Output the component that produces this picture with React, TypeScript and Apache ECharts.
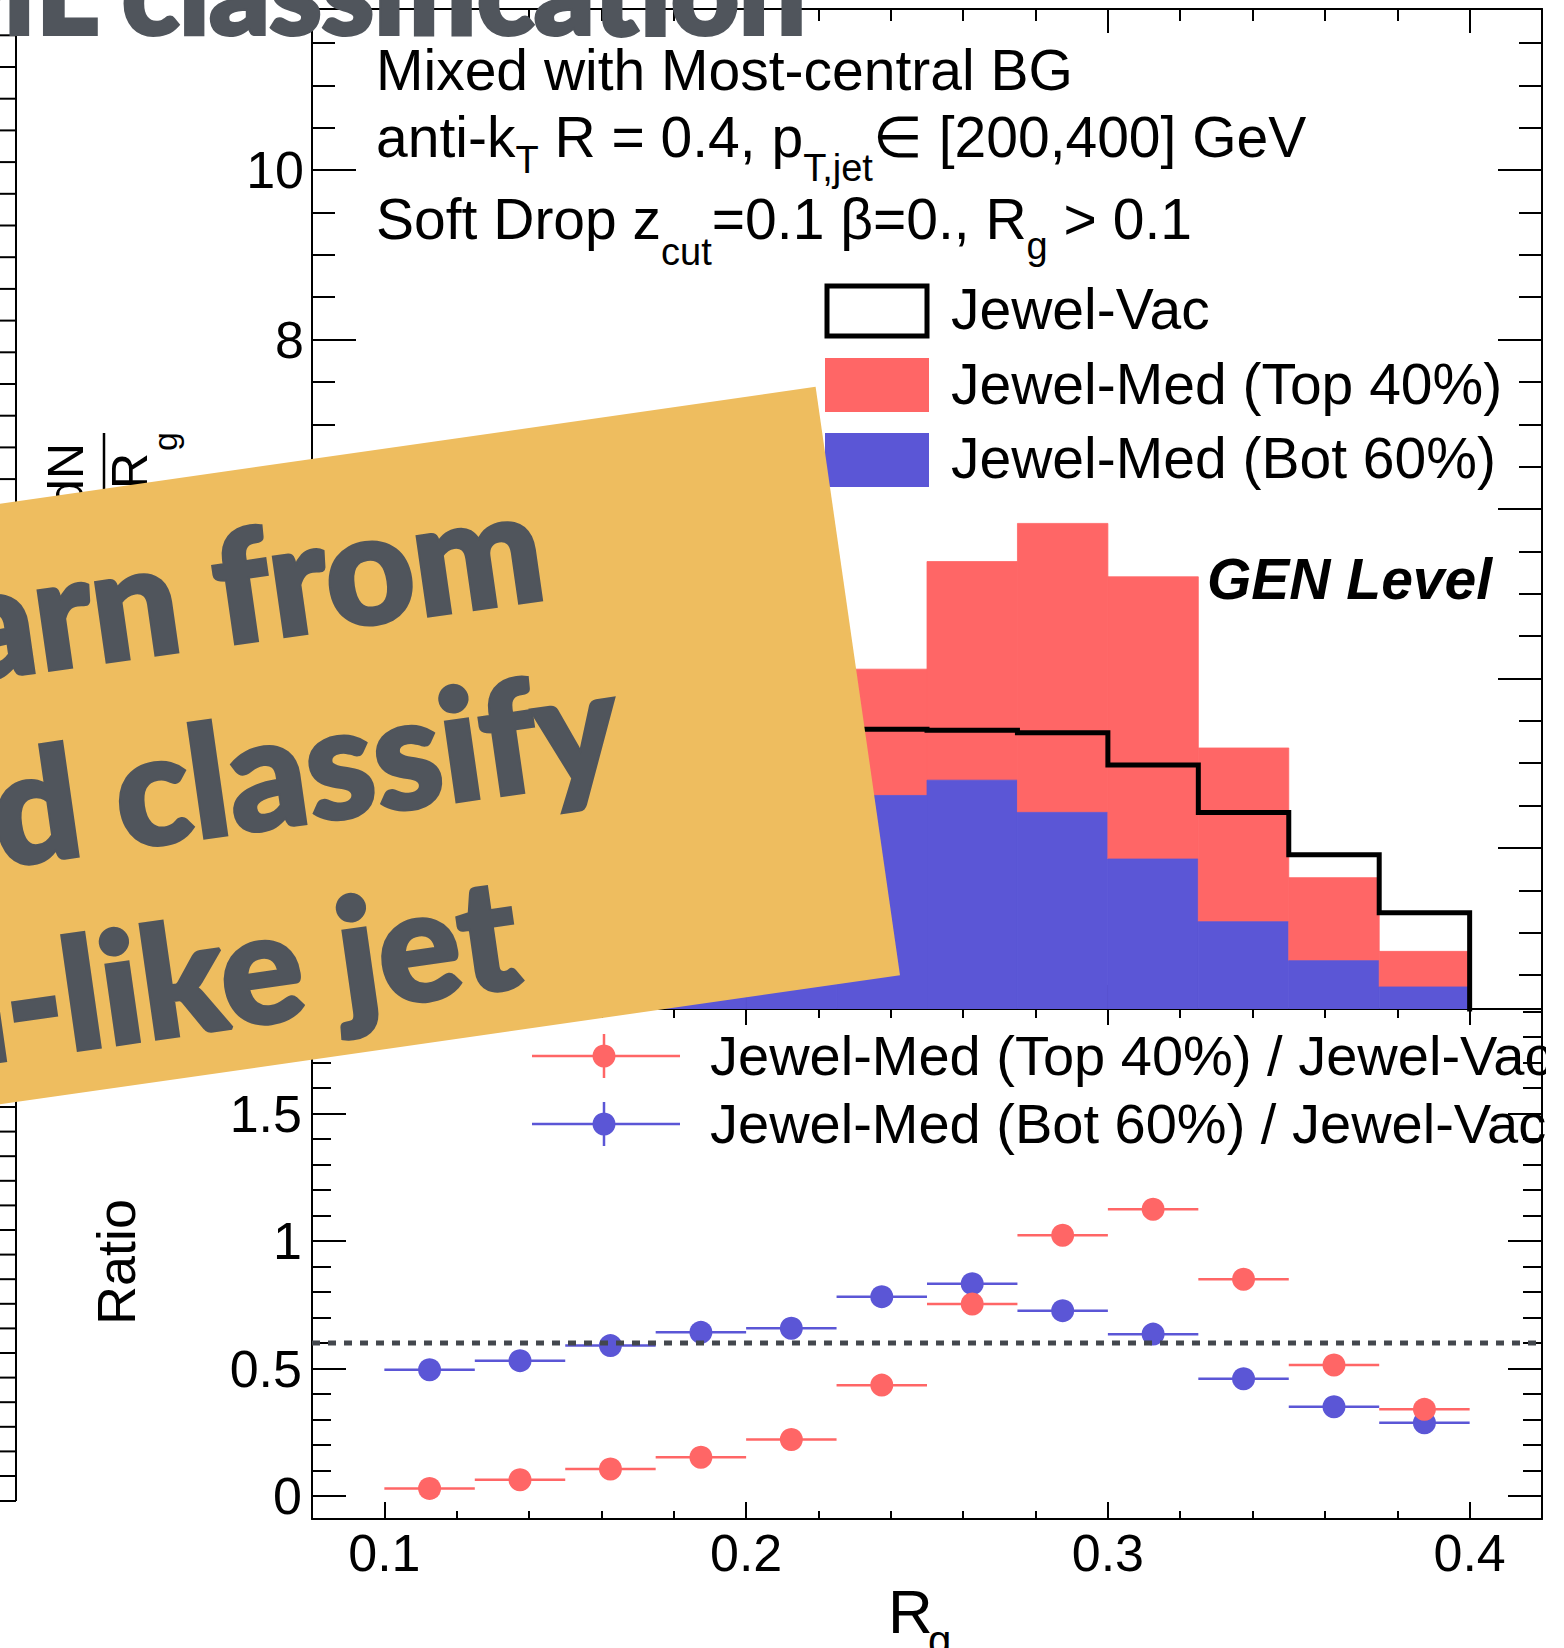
import React, { useEffect, useRef } from "react";
import * as echarts from "echarts";

// ---------------- data ----------------
const binLowEdges = [0.1, 0.125, 0.15, 0.175, 0.2, 0.225, 0.25, 0.275, 0.3, 0.325, 0.35, 0.375];
const binWidth = 0.025;
// upper pad (dN/dRg); bins 0-4 are hidden behind the banner and estimated
const jewelVac = [4.0, 3.9, 3.75, 3.6, 3.5, 3.4, 3.39, 3.36, 2.98, 2.42, 1.92, 1.235];
const jewelMedBot60 = [2.0, 2.09, 2.24, 2.33, 2.32, 2.62, 2.8, 2.42, 1.87, 1.13, 0.67, 0.36];
const jewelMedTop40 = [0.13, 0.27, 0.41, 0.56, 0.79, 1.49, 2.58, 3.41, 3.33, 2.05, 0.98, 0.42];
// lower pad (ratios)
const ratioCenters = [0.1125, 0.1375, 0.1625, 0.1875, 0.2125, 0.2375, 0.2625, 0.2875, 0.3125, 0.3375, 0.3625, 0.3875];
const ratioTop40 = [0.03, 0.064, 0.106, 0.152, 0.222, 0.435, 0.753, 1.023, 1.125, 0.85, 0.514, 0.34];
const ratioBot60 = [0.495, 0.531, 0.59, 0.642, 0.658, 0.782, 0.833, 0.727, 0.635, 0.46, 0.35, 0.287];
const ratioReference = 0.6;

// ticks / labels
const xTickLabels = [0.1, 0.2, 0.3, 0.4];
const xMinorTicks = [0.08, 0.1, 0.12, 0.14, 0.16, 0.18, 0.2, 0.22, 0.24, 0.26, 0.28, 0.3, 0.32, 0.34, 0.36, 0.38, 0.4, 0.42];
const yMainLabels = [2, 4, 6, 8, 10];
const yMainMinor = [0.5, 1, 1.5, 2, 2.5, 3, 3.5, 4, 4.5, 5, 5.5, 6, 6.5, 7, 7.5, 8, 8.5, 9, 9.5, 10, 10.5, 11, 11.5];
const yRatioLabels = [0, 0.5, 1, 1.5];
const yRatioMinor = [0, 0.1, 0.2, 0.3, 0.4, 0.5, 0.6, 0.7, 0.8, 0.9, 1, 1.1, 1.2, 1.3, 1.4, 1.5, 1.6, 1.7, 1.8, 1.9];

const X_MIN = 0.08, X_MAX = 0.42;
const YU_MIN = 0.1, YU_MAX = 11.9;
const YL_MIN = -0.09, YL_MAX = 1.91;

const RED = "#ff6666";
const BLUE = "#5b56d6";
const SLATE = "#50555c";
const BANNER = "#eebd5f";
const ROOTF = "Liberation Sans";
const HEAVY = "Lato";

const C_LIB = 0.3465;
const C_LATO = 0.387;

let _ctx: CanvasRenderingContext2D | null = null;
function tw(text: string, size: number, family = ROOTF, weight = "normal", style = "normal") {
  if (!_ctx) _ctx = document.createElement("canvas").getContext("2d");
  if (!_ctx) return text.length * size * 0.55;
  _ctx.font = `${style} ${weight} ${size}px "${family}"`;
  return _ctx.measureText(text).width;
}

function txt(x: number, baseline: number, text: string, size: number, opts: any = {}) {
  const c = opts.central ?? C_LIB;
  return {
    type: "text",
    x,
    y: baseline - c * size,
    z: opts.z ?? 5,
    rotation: opts.rotation ?? 0,
    style: {
      text,
      fontSize: size,
      fontFamily: opts.family ?? ROOTF,
      fontWeight: opts.weight ?? "normal",
      fontStyle: opts.style ?? "normal",
      fill: opts.fill ?? "#000",
      align: opts.align ?? "left",
      verticalAlign: "middle",
    },
  };
}

type Part = { t: string; sub?: boolean; dy?: number };
function latexLine(x0: number, baseline: number, parts: Part[], size: number, subSize: number) {
  let x = x0;
  const els: any[] = [];
  for (const p of parts) {
    const fs = p.sub ? subSize : size;
    els.push(txt(x, baseline + (p.dy || 0), p.t, fs));
    x += tw(p.t, fs);
  }
  return els;
}

function xAxisDef(gridIndex: number, position: string, ticks: number[], len: number, showLine: boolean, labels?: number[]) {
  return {
    type: "value", gridIndex, position, min: X_MIN, max: X_MAX,
    axisLine: { show: showLine, onZero: false, lineStyle: { color: "#000", width: 2 } },
    axisTick: { show: true, inside: true, length: len, customValues: ticks, lineStyle: { color: "#000", width: 2 } },
    axisLabel: labels
      ? { show: true, customValues: labels, margin: 8, fontSize: 52, fontFamily: ROOTF, color: "#000" }
      : { show: false },
    splitLine: { show: false },
    silent: true,
  };
}
function yAxisDef(gridIndex: number, position: string, min: number, max: number, ticks: number[], len: number, showLine: boolean, labels?: number[], margin = 8) {
  return {
    type: "value", gridIndex, position, min, max,
    axisLine: { show: showLine, onZero: false, lineStyle: { color: "#000", width: 2 } },
    axisTick: { show: true, inside: true, length: len, customValues: ticks, lineStyle: { color: "#000", width: 2 } },
    axisLabel: labels
      ? { show: true, customValues: labels, margin, fontSize: 52, fontFamily: ROOTF, color: "#000" }
      : { show: false },
    splitLine: { show: false },
    silent: true,
  };
}

function buildOption() {
  const vacOutline: number[][] = [[binLowEdges[0], 0]];
  binLowEdges.forEach((x, i) => {
    vacOutline.push([x, jewelVac[i]]);
    vacOutline.push([x + binWidth, jewelVac[i]]);
  });
  vacOutline.push([binLowEdges[binLowEdges.length - 1] + binWidth, 0]);

  const errBar = (color: string) => (params: any, api: any) => {
    const x = api.value(0), y = api.value(1);
    const a = api.coord([x - binWidth / 2, y]);
    const b = api.coord([x + binWidth / 2, y]);
    return { type: "line", shape: { x1: a[0], y1: a[1], x2: b[0], y2: b[1] }, style: { stroke: color, lineWidth: 2.5 } };
  };

  const graphics: any[] = [];

  // neighbouring panel (cropped) on the far left
  graphics.push({ type: "line", z: 1, shape: { x1: 16, y1: 30, x2: 16, y2: 1501 }, style: { stroke: "#000", lineWidth: 2 } });
  graphics.push({ type: "line", z: 1, shape: { x1: 0, y1: 1501, x2: 16, y2: 1501 }, style: { stroke: "#000", lineWidth: 2 } });
  for (let y = 67 - 31.7; y < 520; y += 31.7)
    graphics.push({ type: "line", z: 1, shape: { x1: 0, y1: y, x2: 16, y2: y }, style: { stroke: "#000", lineWidth: 2 } });
  for (let y = 1107; y < 1500; y += 24.6)
    graphics.push({ type: "line", z: 1, shape: { x1: 0, y1: y, x2: 16, y2: y }, style: { stroke: "#000", lineWidth: 2 } });

  // y-axis title fragment dN/dRg (mostly under banner)
  graphics.push({ type: "text", z: 1, x: 66, y: 443, rotation: Math.PI / 2,
    style: { text: "dN", fontSize: 50, fontFamily: ROOTF, fill: "#000", align: "right", verticalAlign: "middle" } });
  graphics.push({ type: "line", z: 1, shape: { x1: 104, y1: 433, x2: 104, y2: 620 }, style: { stroke: "#000", lineWidth: 2.5 } });
  graphics.push({ type: "text", z: 1, x: 130, y: 453, rotation: Math.PI / 2,
    style: { text: "dR", fontSize: 50, fontFamily: ROOTF, fill: "#000", align: "right", verticalAlign: "middle" } });
  graphics.push({ type: "text", z: 1, x: 165, y: 451, rotation: Math.PI / 2,
    style: { text: "g", fontSize: 34, fontFamily: ROOTF, fill: "#000", align: "left", verticalAlign: "middle" } });

  // header
  graphics.push(...latexLine(376, 90, [{ t: "Mixed with Most-central BG" }], 57, 38));
  graphics.push(...latexLine(376, 157, [
    { t: "anti-k" }, { t: "T", sub: true, dy: 16 }, { t: " R = 0.4, p" }, { t: "T,jet", sub: true, dy: 24 },
    { t: "\u2208 [200,400] GeV" },
  ], 57, 38));
  graphics.push(...latexLine(376, 239, [
    { t: "Soft Drop z" }, { t: "cut", sub: true, dy: 26 }, { t: "=0.1 \u03b2=0., R" }, { t: "g", sub: true, dy: 20 },
    { t: " > 0.1" },
  ], 57, 38));

  // upper legend
  graphics.push({ type: "rect", z: 5, shape: { x: 827, y: 286, width: 100, height: 50 }, style: { fill: "#fff", stroke: "#000", lineWidth: 5 } });
  graphics.push({ type: "rect", z: 5, shape: { x: 825, y: 358, width: 104, height: 54 }, style: { fill: RED } });
  graphics.push({ type: "rect", z: 5, shape: { x: 825, y: 433, width: 104, height: 54 }, style: { fill: BLUE } });
  graphics.push(txt(951, 329, "Jewel-Vac", 57));
  graphics.push(txt(951, 404, "Jewel-Med (Top 40%)", 57));
  graphics.push(txt(951, 478, "Jewel-Med (Bot 60%)", 57));

  // GEN Level
  graphics.push(txt(1207, 599, "GEN Level", 57, { weight: "bold", style: "italic" }));

  // lower legend
  const legRows = [
    { y: 1056, color: RED, label: "Jewel-Med (Top 40%) / Jewel-Vac" },
    { y: 1124, color: BLUE, label: "Jewel-Med (Bot 60%) / Jewel-Vac" },
  ];
  legRows.forEach((r) => {
    graphics.push({ type: "line", z: 5, shape: { x1: 532, y1: r.y, x2: 680, y2: r.y }, style: { stroke: r.color, lineWidth: 2.5 } });
    graphics.push({ type: "line", z: 5, shape: { x1: 604, y1: r.y - 22, x2: 604, y2: r.y + 22 }, style: { stroke: r.color, lineWidth: 2.5 } });
    graphics.push({ type: "circle", z: 5, shape: { cx: 604, cy: r.y, r: 11.5 }, style: { fill: r.color } });
    graphics.push(txt(710, r.y + 19, r.label, 56));
  });
  // pad clipping of legend text beyond the frame
  graphics.push({ type: "rect", z: 6, shape: { x: 1546, y: 1015, width: 18, height: 150 }, style: { fill: "#fff" } });

  // axis titles
  graphics.push({ type: "text", z: 5, x: 116, y: 1262, rotation: Math.PI / 2,
    style: { text: "Ratio", fontSize: 54, fontFamily: ROOTF, fill: "#000", align: "center", verticalAlign: "middle" } });
  graphics.push(txt(888, 1633, "R", 62));
  graphics.push(txt(928, 1655, "g", 42));

  // banner
  const bx = 815.6, by = 386.8, ang = 0.14207, bh = 594.4;
  const bannerLines = [
    { t: "arn from", x: -292, b: 171.6 },
    { t: "d classify", x: -243, b: 359.6 },
    { t: "n-like jet", x: -372, b: 551.8 },
  ];
  graphics.push({
    type: "group", x: bx, y: by, rotation: ang, z: 50,
    children: [
      { type: "rect", z: 50, shape: { x: -1500, y: 0, width: 1500, height: bh }, style: { fill: BANNER } },
      ...bannerLines.map((l) => ({
        type: "text", z: 51, x: l.x - 2, y: l.b - C_LATO * 154,
        style: {
          text: l.t, fontSize: 154, fontFamily: HEAVY, fontWeight: 900, fill: SLATE,
          stroke: SLATE, lineWidth: 4, lineJoin: "round",
          align: "right", verticalAlign: "middle",
        },
      })),
    ],
  });

  // slide title (cropped at top)
  const mW = tw("M", 118, HEAVY, "900");
  graphics.push({
    type: "text", z: 60, x: 36 - mW, y: 34 - C_LATO * 118,
    style: {
      text: "ML classification", fontSize: 118, fontFamily: HEAVY, fontWeight: 900, fill: SLATE,
      stroke: SLATE, lineWidth: 4, lineJoin: "round", align: "left", verticalAlign: "middle",
    },
  });

  return {
    animation: false,
    backgroundColor: "#fff",
    grid: [
      { left: 312, top: 9, width: 1230, height: 1000, show: false },
      { left: 312, top: 1009, width: 1230, height: 510, show: false },
    ],
    xAxis: [
      xAxisDef(0, "bottom", xTickLabels, 24, true),
      xAxisDef(0, "bottom", xMinorTicks, 12, false),
      xAxisDef(0, "top", xTickLabels, 24, true),
      xAxisDef(0, "top", xMinorTicks, 12, false),
      xAxisDef(1, "bottom", xTickLabels, 17, true, xTickLabels),
      xAxisDef(1, "bottom", xMinorTicks, 8, false),
      xAxisDef(1, "top", xTickLabels, 16, true),
      xAxisDef(1, "top", xMinorTicks, 9, false),
    ],
    yAxis: [
      yAxisDef(0, "left", YU_MIN, YU_MAX, yMainLabels, 44, true, yMainLabels, 8),
      yAxisDef(0, "left", YU_MIN, YU_MAX, yMainMinor, 23, false),
      yAxisDef(0, "right", YU_MIN, YU_MAX, yMainLabels, 44, true),
      yAxisDef(0, "right", YU_MIN, YU_MAX, yMainMinor, 23, false),
      yAxisDef(1, "left", YL_MIN, YL_MAX, yRatioLabels, 34, true, yRatioLabels, 10),
      yAxisDef(1, "left", YL_MIN, YL_MAX, yRatioMinor, 19, false),
      yAxisDef(1, "right", YL_MIN, YL_MAX, yRatioLabels, 34, true),
      yAxisDef(1, "right", YL_MIN, YL_MAX, yRatioMinor, 19, false),
    ],
    series: [
      {
        type: "custom", name: "stack", xAxisIndex: 0, yAxisIndex: 0, clip: true, silent: true,
        data: binLowEdges.map((x, i) => [x, jewelMedBot60[i], jewelMedTop40[i]]),
        encode: { x: 0, y: 1 },
        renderItem: (params: any, api: any) => {
          const lo = api.value(0), b = api.value(1), t = api.value(2);
          const p0 = api.coord([lo, 0]);
          const pb = api.coord([lo + binWidth, b]);
          const pt = api.coord([lo + binWidth, b + t]);
          const w = pb[0] - p0[0];
          return {
            type: "group",
            children: [
              { type: "rect", shape: { x: p0[0], y: pt[1], width: w, height: pb[1] - pt[1] }, style: { fill: RED, stroke: RED, lineWidth: 0.8 } },
              { type: "rect", shape: { x: p0[0], y: pb[1], width: w, height: p0[1] - pb[1] }, style: { fill: BLUE, stroke: BLUE, lineWidth: 0.8 } },
            ],
          };
        },
      },
      {
        type: "line", name: "Jewel-Vac", xAxisIndex: 0, yAxisIndex: 0, data: vacOutline, showSymbol: false, symbol: "none",
        silent: true, clip: true, lineStyle: { color: "#000", width: 5, join: "miter" },
      },
      {
        type: "line", name: "ref", xAxisIndex: 4, yAxisIndex: 4, data: [[X_MIN, ratioReference], [X_MAX, ratioReference]],
        symbol: "none", silent: true, lineStyle: { color: "#43474d", width: 5, type: [8, 8] },
      },
      {
        type: "custom", name: "botErr", xAxisIndex: 4, yAxisIndex: 4, silent: true,
        data: ratioCenters.map((x, i) => [x, ratioBot60[i]]), encode: { x: 0, y: 1 }, renderItem: errBar(BLUE),
      },
      {
        type: "scatter", name: "bot", xAxisIndex: 4, yAxisIndex: 4, silent: true, symbolSize: 23,
        data: ratioCenters.map((x, i) => [x, ratioBot60[i]]), itemStyle: { color: BLUE, opacity: 1 },
      },
      {
        type: "custom", name: "topErr", xAxisIndex: 4, yAxisIndex: 4, silent: true,
        data: ratioCenters.map((x, i) => [x, ratioTop40[i]]), encode: { x: 0, y: 1 }, renderItem: errBar(RED),
      },
      {
        type: "scatter", name: "top", xAxisIndex: 4, yAxisIndex: 4, silent: true, symbolSize: 23,
        data: ratioCenters.map((x, i) => [x, ratioTop40[i]]), itemStyle: { color: RED, opacity: 1 },
      },
    ],
    graphic: { elements: graphics },
  };
}

export default function App() {
  const ref = useRef<HTMLDivElement>(null);
  useEffect(() => {
    const el = ref.current;
    if (!el) return;
    const chart = echarts.init(el, null, { renderer: "svg" });
    chart.setOption(buildOption() as any);
    return () => chart.dispose();
  }, []);
  return (
    <div
      ref={ref}
      style={{ position: "absolute", left: 0, top: 0, width: 1564, height: 1648, background: "#fff" }}
    />
  );
}
